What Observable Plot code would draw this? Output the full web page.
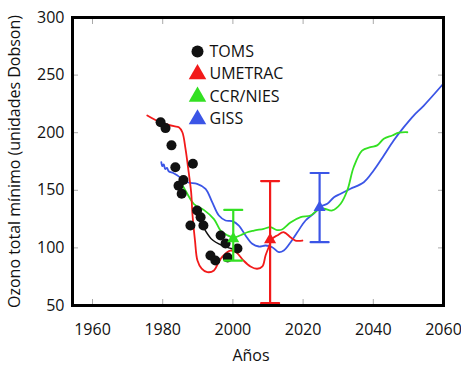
<!DOCTYPE html>
<html><head><meta charset="utf-8">
<script src="https://cdn.jsdelivr.net/npm/d3@7"></script>
<script src="https://cdn.jsdelivr.net/npm/@observablehq/plot@0.6"></script>
<style>body{margin:0;background:#fff;}</style>
</head><body><div id="chart"></div>
<script>
const xTicks = [1960, 1980, 2000, 2020, 2040, 2060];
const yTicks = [50, 100, 150, 200, 250, 300];

const tomsYears  = [1979.4,1980.8,1982.5,1983.6,1988.6,1985.9,1984.5,1985.4,1989.8,1990.8,1987.9,1991.6,1996.5,1997.9,1993.6,1995.0,1998.5,2001.3];
const tomsValues = [209,204,189,170,173,159,154,147,132.5,126.6,119.4,119.4,110.8,103.8,93.4,89.1,91.7,99.5];

const tomsTrendYears  = [1989.5,1991,1993.8,1997,2001.6];
const tomsTrendValues = [129,121,108,102,98];

const umetracYears  = [1975.6,1979.4,1983.2,1984.6,1985.6,1986.5,1987.4,1988.1,1988.5,1989.2,1989.9,1991.1,1992.7,1994.6,1995.9,1997,1999.3,2001,2003,2005,2006.9,2008.4,2009.3,2010.2,2011.2,2012.6,2014.5,2016.4,2017.8,2019.8];
const umetracValues = [215,209,205.6,204.8,200.4,186,165.7,148.4,128.1,106.4,89.1,82.1,79,80.4,87.3,92.5,97.7,96,89.1,83.9,81.9,83.9,93.4,100.6,107.9,110.8,113.6,109.3,106.4,106.4];

const ccrYears  = [1985.5,1987.2,1988.9,1991.7,1994.6,1996.5,1998.4,2000.3,2002.2,2004.1,2006,2008.8,2010.7,2012.6,2014,2016.4,2019.3,2022.1,2024,2025.9,2028.3,2030.7,2032.6,2034.4,2036.8,2039.2,2041.1,2043,2045.4,2047.3,2049.7];
const ccrValues = [155,146,138,133,125,115,111,109,111,113.6,115,116.6,118,115.5,116,122,126.7,128.1,132.5,134,132.5,138.3,150,170,184.5,187.4,189,194.7,197.6,200,200.4];

const gissYears  = [1979.6,1979.9,1980.3,1980.7,1981.2,1981.7,1983,1984.1,1987,1989.8,1992.2,1994.1,1996,1997.9,1999.8,2001.7,2003.6,2005.5,2007.4,2009.3,2011.2,2013.1,2014.5,2016.4,2018.3,2020.7,2023.5,2025,2026.9,2028.8,2030.7,2033.5,2037.3,2040.1,2043,2045.8,2048.7,2051.5,2054.4,2060];
const gissValues = [174.5,171,172.5,168.5,169.5,166.5,165,163,157,155.6,151.3,139.7,128.1,123.8,123.2,119.4,110.8,103.6,101.2,102.1,100.6,96.3,97.7,104.7,113.3,123.8,131,136,138.3,144,147,151.3,157,167.2,180.2,193.2,204.8,214.9,223.6,242.7];

const errSeries = ["UMETRAC", "CCR/NIES", "GISS"];
const errYears  = [2010.6, 2000.1, 2024.7];
const errCenter = [107, 108, 135];
const errLow    = [52, 89, 105];
const errHigh   = [158, 133, 165];

const legendNames = ["TOMS", "UMETRAC", "CCR/NIES", "GISS"];
const colors = {"TOMS": "#111111", "UMETRAC": "#f21a1a", "CCR/NIES": "#33e022", "GISS": "#3b55e6"};

const toPts = (xs, ys) => xs.map((x, i) => ({x, y: ys[i]}));
const toms = toPts(tomsYears, tomsValues);
const tomsTrend = toPts(tomsTrendYears, tomsTrendValues);
const umetrac = toPts(umetracYears, umetracValues);
const ccr = toPts(ccrYears, ccrValues);
const giss = toPts(gissYears, gissValues);
const errs = errSeries.map((s, i) => ({s, x: errYears[i], c: errCenter[i], lo: errLow[i], hi: errHigh[i]}));

const capShape = {draw(ctx, l) { ctx.moveTo(0, 0); ctx.lineTo(0, -l); }};

const legendMarks = legendNames.flatMap((name, i) => [
  Plot.dot([name], {frameAnchor: "top-left", dx: 125, dy: 34 + i * 22.6, r: i === 0 ? 6 : 6.5,
    symbol: i === 0 ? "circle" : "triangle", fill: colors[name], stroke: "none"}),
  Plot.text([name], {frameAnchor: "top-left", dx: 137, dy: 34 + i * 22.6, text: d => d,
    textAnchor: "start", lineAnchor: "middle", fontSize: 16, fill: "#111"})
]);

const chart = Plot.plot({
  width: 461, height: 365,
  marginLeft: 72, marginRight: 18, marginTop: 17, marginBottom: 60,
  x: {domain: [1954.3, 2060]},
  y: {domain: [50, 300]},
  style: {fontFamily: "'Open Sans', sans-serif", fontSize: "16px", color: "#111", background: "#fff"},
  marks: [
    Plot.axisX({anchor: "bottom", ticks: xTicks, tickSize: -6, text: null, label: null, stroke: "#aaa"}),
    Plot.axisX({anchor: "top", ticks: xTicks, tickSize: -6, text: null, label: null, stroke: "#aaa"}),
    Plot.axisY({anchor: "left", ticks: yTicks, tickSize: -6, text: null, label: null, stroke: "#aaa"}),
    Plot.axisY({anchor: "right", ticks: yTicks, tickSize: -6, text: null, label: null, stroke: "#aaa"}),
    Plot.axisX({anchor: "bottom", ticks: xTicks, tickSize: 0, tickPadding: 18, tickFormat: d => String(d), label: null, fontSize: 16}),
    Plot.axisY({anchor: "left", ticks: yTicks, tickSize: 0, tickPadding: 8, label: null, fontSize: 16}),
    Plot.text(["Años"], {frameAnchor: "bottom", dy: 50, dx: -7, lineAnchor: "middle", textAnchor: "middle", fontSize: 16}),
    Plot.text(["Ozono total mínimo (unidades Dobson)"], {frameAnchor: "left", dx: -58, rotate: -90, textAnchor: "middle", lineAnchor: "middle", fontSize: 16}),
    Plot.line(giss, {x: "x", y: "y", stroke: colors["GISS"], strokeWidth: 1.8, curve: "catmull-rom"}),
    Plot.line(ccr, {x: "x", y: "y", stroke: colors["CCR/NIES"], strokeWidth: 1.8, curve: "catmull-rom"}),
    Plot.line(umetrac, {x: "x", y: "y", stroke: colors["UMETRAC"], strokeWidth: 1.8, curve: "catmull-rom"}),
    Plot.line(tomsTrend, {x: "x", y: "y", stroke: "#111", strokeWidth: 1.5, curve: "catmull-rom"}),
    Plot.dot(toms, {x: "x", y: "y", r: 5, fill: "#111", stroke: "none"}),
    Plot.ruleX(errs, {x: "x", y1: "lo", y2: "hi", stroke: d => colors[d.s], strokeWidth: 2.2}),
    Plot.vector(errs, {x: "x", y: "lo", length: 18, rotate: 90, anchor: "middle", shape: capShape, stroke: d => colors[d.s], strokeWidth: 2.2}),
    Plot.vector(errs, {x: "x", y: "hi", length: 18, rotate: 90, anchor: "middle", shape: capShape, stroke: d => colors[d.s], strokeWidth: 2.2}),
    Plot.dot(errs, {x: "x", y: "c", r: 4.5, symbol: "triangle", fill: d => colors[d.s], stroke: "none"}),
    ...legendMarks,
    Plot.frame({stroke: "#000", strokeWidth: 3})
  ]
});
document.getElementById("chart").appendChild(chart);
</script>
</body></html>
